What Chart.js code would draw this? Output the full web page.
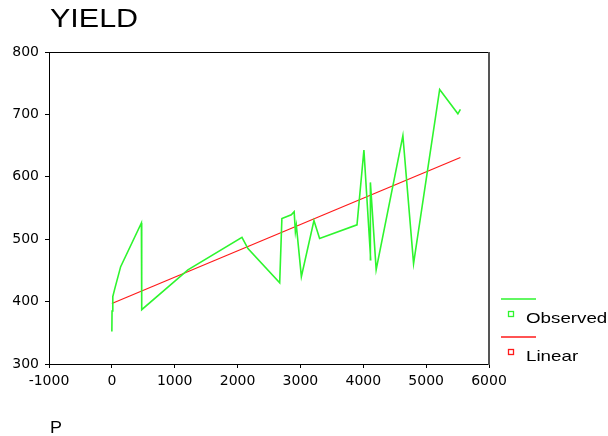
<!DOCTYPE html>
<html>
<head>
<meta charset="utf-8">
<script src="https://cdn.jsdelivr.net/npm/chart.js@4"></script>
<style>
  html, body { margin: 0; padding: 0; background: #fff; }
</style>
</head>
<body>
<canvas id="myChart" width="608" height="436"></canvas>
<script>
// observed points, in the order they are joined
const pValues = [0, 3, 15, 50, 140, 470, 475, 1210, 2070, 2165, 2670, 2705, 2855, 2900, 2920, 2935, 3015, 3215, 3305, 3900, 4010, 4118, 4113, 4205, 4630, 4800, 5215, 5505, 5545];
const yieldObserved = [352, 385, 408, 422, 456, 526, 387, 451, 503, 485, 430, 533, 539, 544, 512, 522, 440, 530, 501, 523, 643, 467, 591, 451, 666, 461, 740, 701, 708];

// linear fit
const linearP = [0, 5545];
const linearYield = [397, 631];

const xTickValues = [-1000, 0, 1000, 2000, 3000, 4000, 5000, 6000];
const yTickValues = [300, 400, 500, 600, 700, 800];

const GREEN = "#2ef52e";
const RED = "#ff1a1a";

function toPoints(xs, ys) {
  return xs.map((x, i) => ({ x: x, y: ys[i] }));
}

function stretchText(ctx, txt, x, y, size, sx) {
  ctx.save();
  ctx.translate(x, y);
  ctx.scale(sx, 1);
  ctx.font = size + 'px "Liberation Sans", Arial, sans-serif';
  ctx.fillStyle = "#000";
  ctx.textBaseline = "alphabetic";
  ctx.fillText(txt, 0, 0);
  ctx.restore();
}

const decorations = {
  id: "decorations",
  afterDraw(chart) {
    const ctx = chart.ctx;
    const a = chart.chartArea;
    ctx.save();
    // top and right side of the frame
    ctx.strokeStyle = "#000";
    ctx.lineWidth = 1;
    ctx.beginPath();
    ctx.moveTo(a.left, a.top + 0.5);
    ctx.lineTo(a.right, a.top + 0.5);
    ctx.stroke();
    ctx.strokeStyle = "#555";
    ctx.lineWidth = 2;
    ctx.beginPath();
    ctx.moveTo(a.right, a.top);
    ctx.lineTo(a.right, a.bottom + 1);
    ctx.stroke();

    // titles
    stretchText(ctx, "YIELD", 50, 27, 25, 1.22);
    stretchText(ctx, "P", 50, 433, 16, 1.12);

    // legend
    const items = [
      { label: "Observed", color: GREEN, y: 299 },
      { label: "Linear", color: RED, y: 337 },
    ];
    items.forEach((it) => {
      ctx.strokeStyle = it.color;
      ctx.lineWidth = 1.5;
      ctx.beginPath();
      ctx.moveTo(501, it.y);
      ctx.lineTo(536, it.y);
      ctx.stroke();
      ctx.lineWidth = 1.3;
      ctx.strokeRect(508.5, it.y + 12.5, 5, 5);
      stretchText(ctx, it.label, 526, it.y + 24, 15, 1.25);
    });
    ctx.restore();
  },
};

const ctx = document.getElementById("myChart").getContext("2d");

const chart = new Chart(ctx, {
  type: "line",
  data: {
    datasets: [
      {
        label: "Observed",
        data: toPoints(pValues, yieldObserved),
        borderColor: GREEN,
        borderWidth: 1.6,
        pointRadius: 0,
        tension: 0,
        fill: false,
      },
      {
        label: "Linear",
        data: toPoints(linearP, linearYield),
        borderColor: RED,
        borderWidth: 1.2,
        pointRadius: 0,
        tension: 0,
        fill: false,
      },
    ],
  },
  options: {
    responsive: false,
    animation: false,
    layout: { padding: { top: 52, right: 119, left: 0, bottom: 0 } },
    plugins: {
      legend: { display: false },
      tooltip: { enabled: false },
    },
    scales: {
      x: {
        type: "linear",
        min: -1000,
        max: 6000,
        afterBuildTicks: (s) => { s.ticks = xTickValues.map((v) => ({ value: v })); },
        afterFit: (s) => { s.height = 72; },
        grid: { drawOnChartArea: false, drawTicks: true, tickLength: 4, color: "#000" },
        border: { display: true, color: "#000", width: 1 },
        ticks: {
          color: "#000",
          padding: 5,
          maxRotation: 0,
          font: { family: '"DejaVu Sans"', size: 14 },
          callback: (v) => String(v),
        },
      },
      y: {
        type: "linear",
        min: 300,
        max: 800,
        afterBuildTicks: (s) => { s.ticks = yTickValues.map((v) => ({ value: v })); },
        afterFit: (s) => { s.width = 49; },
        grid: { drawOnChartArea: false, drawTicks: true, tickLength: 4, color: "#000" },
        border: { display: true, color: "#000", width: 1 },
        ticks: {
          color: "#000",
          padding: 6,
          font: { family: '"DejaVu Sans"', size: 14 },
          callback: (v) => String(v),
        },
      },
    },
  },
  plugins: [decorations],
});
</script>
</body>
</html>
